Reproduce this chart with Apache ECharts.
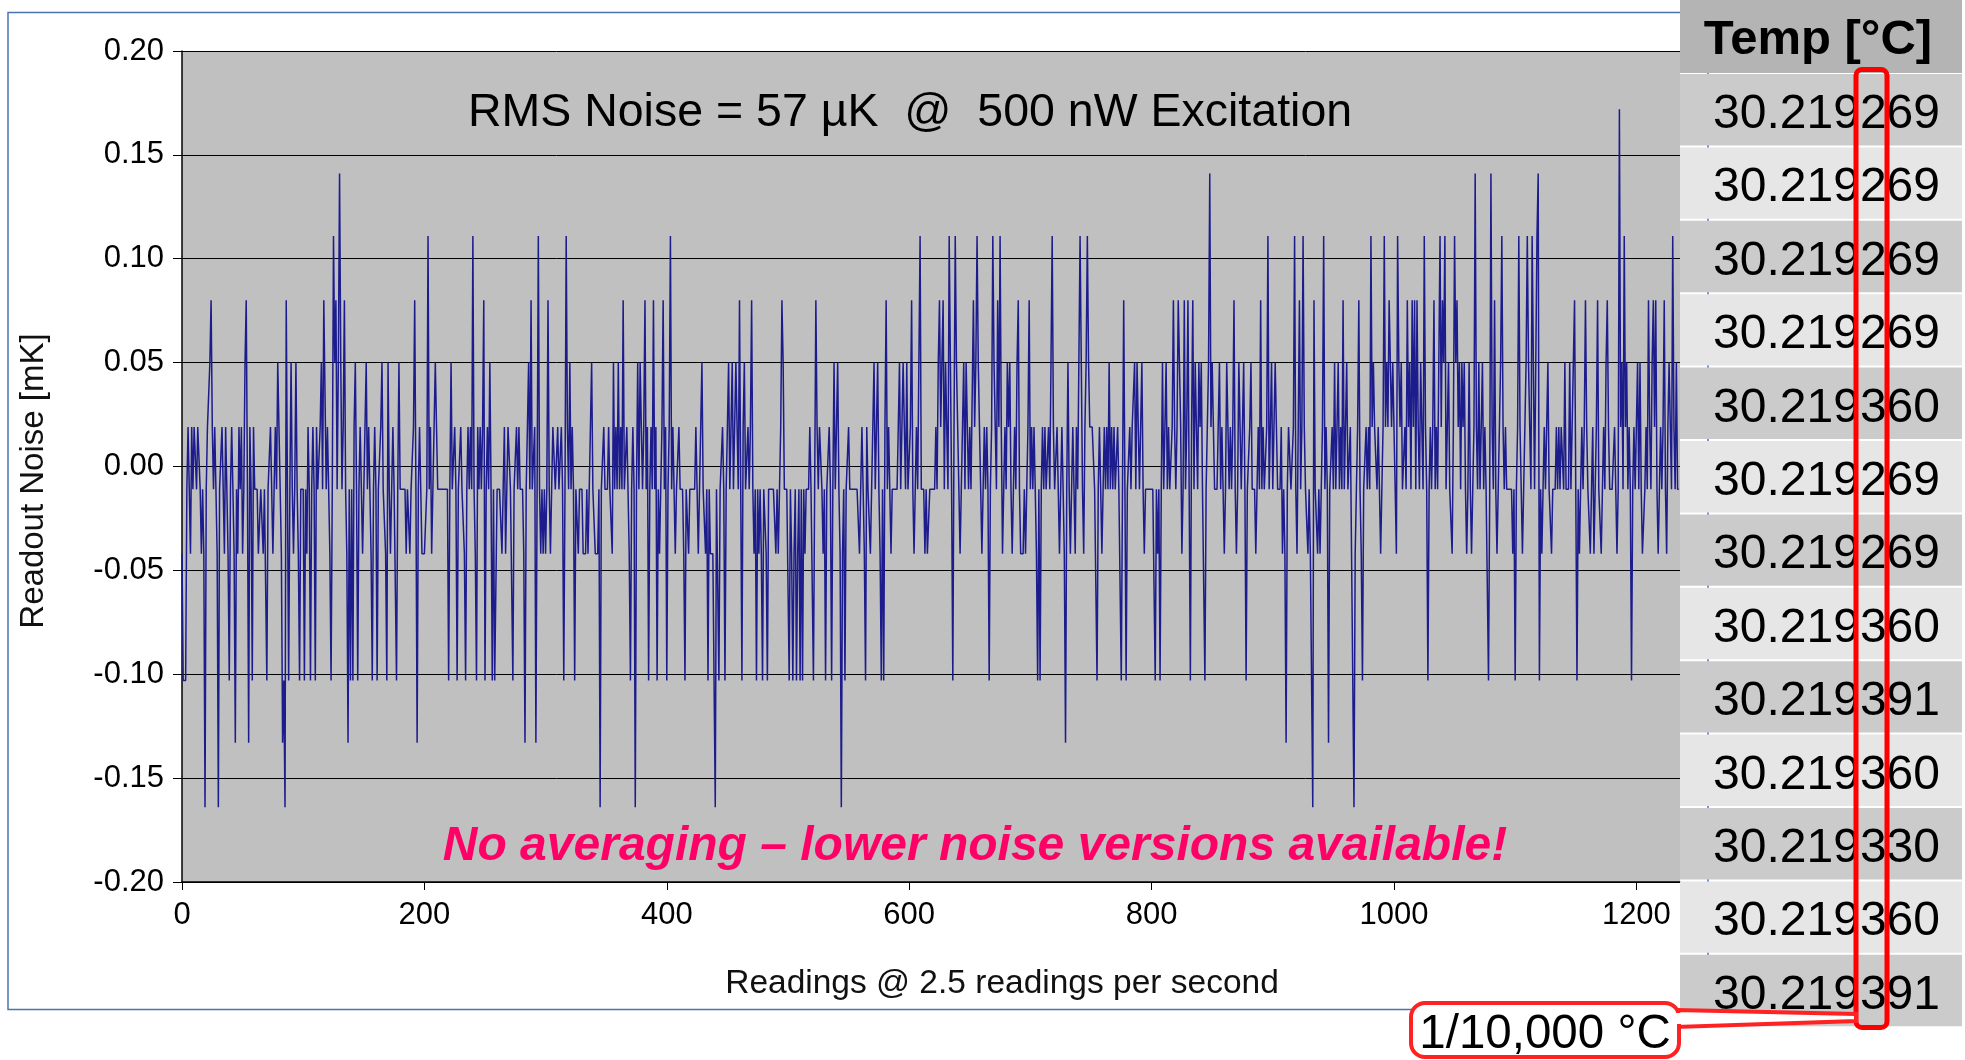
<!DOCTYPE html>
<html>
<head>
<meta charset="utf-8">
<script src="https://cdn.jsdelivr.net/npm/echarts@6/dist/echarts.min.js"></script>
<style>
  html, body { margin: 0; padding: 0; background: #fff; }
  #chart { width: 1965px; height: 1060px; }
</style>
</head>
<body>
<div id="chart"></div>
<script>
// quantised readout levels [mK], one letter per level
const levelCodes = 'ABCDEFGHIJK';
const levelValues = [0.172, 0.141, 0.111, 0.080, 0.050, 0.019, -0.011, -0.042, -0.103, -0.133, -0.164];

// readings, 100 per segment
const readingSegments = [
  'HIIIGFGHFGFFGFFGHGHKGFFEDFGFGHKGGFGHFGHIGFGHJGHFGFHGEDGJFGIFGGGHHGGHGGIGGFGHGFGEFGHJIKDGIGEGHGEGHIGG',
  'GIGHFGIGFGIFGGFEGDDGFGHIGCEDGEBEGFDGHJGIGIFEGIGFGHHFEGFGHIGFGIGGFEGGHIEGHGFGGIGEGGGGGHGGHGGFDGJGFGHH',
  'HHGCGFHGFEFGGGGGGGGGIGEGGFGIGGFGGHIGFGFGCGHIFGFGFDIGFGEGIGIIGGGGHGFHGFFGGIGGFGFGGGHJGFEGDGGFJGCGHGHG',
  'HGDGHGFFGGFGGFGIGCFGEGFGIGGHGGGHHHGHGFEGGHHHGKGGFGGGFGGHEGFGEGFGDGGFGHIGFGKGEGEFGFDGFIGFGDGFIGHGFDGF',
  'IGFCGFGHGGFGGGHIGGHGGGGGFGHGFEGGHGIGHHHHKGGIGGFGIGFEGFEGGEFGDGIFEGGFGFDGHGIGHGHIGGHIGGGGGGHGHGFDEGGG',
  'GIGHIHGIHGIGIGHGGGFGGIGDFGFFGHGIGGFGIGEGFEGHKHGIGGFGGGGGGGGHGFGHIFGGHGFEGFEGHIGIFDGFGHGGGGGFEGFEFGEG',
  'GFDGHGFGECGGGHGHHGGGGGFGEDFEDGEFGCEGIFCEFGHGFEGEFGFGGDFECEFGHGFGFGIGFCEFGDFCFHGFGEFEGHGFGEDGHHHGHGFD',
  'GFGFGHIGIGFGFGGFGECFGGFGHGFGHJGEGHGFGHFGECEGHFECEFFFFGGIGFGHGFGFGEGFGFGGFGGIGDGIGGFGFFEGEEGGEGHGGGGG',
  'GGGIGHGIGEGFEGFGGFDFGFDDFHGDGFDGIFDGEFGEFEGGIGFEBFEFGGGGEGFGHGEFGFGFDGHGEFGGEGIGGFEGGGHGFGDGFGGFCGGE',
  'GGEFGGGFHGHJGFFGGFCGHFDGFCFGGHGHHKDGGHGHGFCGFGJGGFGEGGEGFGDGGEGGFHHKHGFDGHIGGFGFGCFEFFGFGHGFCFEFDEFE',
  'FGHCEFEGGFGDFEGDFDGDFGEFGCFGIGFGFDGFGECFDECGFEGGHFCEDFEGEFEGHGEGHGFBFGEGGEGFGGIGBFGDGHGFECFGFGGGGGHG',
  'IGFCFGHGFECEFGCCGECBIGHGFGGEGGHGGGFGFGFFGEGGGEGFEDGIGHGFGFDFGGHGFHGFDGGHGFGEDFGGGGFGHGAFEGCFEGFGIGFG',
  'FEGEGHHGFGDFGEDFDGHGFGFDGHFEEGCFGEGG'
];

const xTicks = [0, 200, 400, 600, 800, 1000, 1200];
const readingCount = 1236;

const tempHeader = 'Temp [°C]';
const tempReadings = [
  '30.219269', '30.219269', '30.219269', '30.219269', '30.219360', '30.219269', '30.219269',
  '30.219360', '30.219391', '30.219360', '30.219330', '30.219360', '30.219391'
];

const FONT = "'Liberation Sans', Arial, Helvetica, sans-serif";

const noise = readingSegments.join('').split('').map((c, i) => [i, levelValues[levelCodes.indexOf(c)]]);

// temperature table on the right
const tableX = 1680, tableW = 282, headerH = 73, rowPitch = 73.4, rowTop = 74;
const tableEls = [
  { type: 'rect', z: 100, shape: { x: tableX, y: 0, width: tableW, height: headerH }, style: { fill: '#b4b4b4' } },
  { type: 'text', z: 101, style: { text: tempHeader, x: 1818, y: 40, textAlign: 'center', textVerticalAlign: 'middle',
      font: "bold 49px " + FONT, fill: '#000' } }
];
tempReadings.forEach((t, i) => {
  const y = rowTop + i * rowPitch;
  tableEls.push({ type: 'rect', z: 100, shape: { x: tableX, y: y, width: tableW, height: rowPitch - 2 },
    style: { fill: i % 2 === 0 ? '#cbcbcb' : '#e6e6e6' } });
  tableEls.push({ type: 'text', z: 101, style: { text: t, x: 1940, y: y + rowPitch / 2 + 4, textAlign: 'right',
    textVerticalAlign: 'middle', font: "48px " + FONT, fill: '#000' } });
});

const chart = echarts.init(document.getElementById('chart'));
chart.setOption({
  animation: false,
  backgroundColor: '#fff',
  grid: { left: 182, top: 51, right: 285, bottom: 178, show: true, backgroundColor: '#c0c0c0', borderWidth: 0 },
  xAxis: {
    type: 'value', min: 0, max: readingCount, interval: 200,
    axisLine: { show: true, onZero: false, lineStyle: { color: '#000', width: 1.5 } },
    axisTick: { show: true, length: 8, customValues: xTicks, lineStyle: { color: '#000' } },
    axisLabel: { customValues: xTicks, fontSize: 31, fontFamily: FONT, color: '#000', margin: 18,
      formatter: (v) => String(v) },
    splitLine: { show: false }
  },
  yAxis: {
    type: 'value', min: -0.2, max: 0.2, interval: 0.05,
    axisLine: { show: true, lineStyle: { color: '#000', width: 1.5 } },
    axisTick: { show: true, length: 9, lineStyle: { color: '#000' } },
    axisLabel: {
      fontSize: 31, fontFamily: FONT, color: '#000', margin: 18,
      formatter: (v) => (Math.abs(v) < 1e-9 ? 0 : v).toFixed(2)
    },
    splitLine: { show: true, lineStyle: { color: '#000', width: 1 } }
  },
  series: [{
    type: 'line',
    data: noise,
    symbol: 'none',
    sampling: null,
    lineStyle: { color: '#1c1c8c', width: 1.5 },
    z: 3
  }],
  graphic: {
    elements: [
      { type: 'rect', z: 1, shape: { x: 8, y: 12.5, width: 1700, height: 997 },
        style: { fill: 'none', stroke: '#4a74b0', lineWidth: 1.5 } },
      { type: 'text', z: 10, style: { text: 'RMS Noise = 57 µK  @  500 nW Excitation', x: 910, y: 113,
          textAlign: 'center', textVerticalAlign: 'middle', font: "46.5px " + FONT, fill: '#000' } },
      { type: 'text', z: 10, style: { text: 'No averaging – lower noise versions available!', x: 975, y: 847,
          textAlign: 'center', textVerticalAlign: 'middle', font: "italic bold 48px " + FONT, fill: '#ff0066' } },
      { type: 'text', z: 10, style: { text: 'Readings @ 2.5 readings per second', x: 1002, y: 984,
          textAlign: 'center', textVerticalAlign: 'middle', font: "33.5px " + FONT, fill: '#111' } },
      { type: 'text', z: 10, x: 34, y: 481, rotation: Math.PI / 2,
        style: { text: 'Readout Noise [mK]', x: 0, y: 0, textAlign: 'center', textVerticalAlign: 'middle',
          font: "33px " + FONT, fill: '#111' } },
      ...tableEls,
      { type: 'rect', z: 110, shape: { x: 1856, y: 69.5, width: 31, height: 958, r: 6 },
        style: { fill: 'none', stroke: '#ff0000', lineWidth: 5 } },
      { type: 'polygon', z: 111, shape: { points: [[1676, 1010], [1856, 1014], [1856, 1021], [1676, 1027]] },
        style: { fill: '#fff', stroke: '#ff2222', lineWidth: 4 } },
      { type: 'rect', z: 112, shape: { x: 1411, y: 1003, width: 268, height: 54, r: 14 },
        style: { fill: '#fff', stroke: '#ff2222', lineWidth: 4 } },
      { type: 'rect', z: 113, shape: { x: 1672, y: 1013, width: 12, height: 11 }, style: { fill: '#fff' } },
      { type: 'text', z: 114, style: { text: '1/10,000 °C', x: 1545, y: 1035, textAlign: 'center',
          textVerticalAlign: 'middle', font: "47.5px " + FONT, fill: '#000' } }
    ]
  }
});
</script>
</body>
</html>
